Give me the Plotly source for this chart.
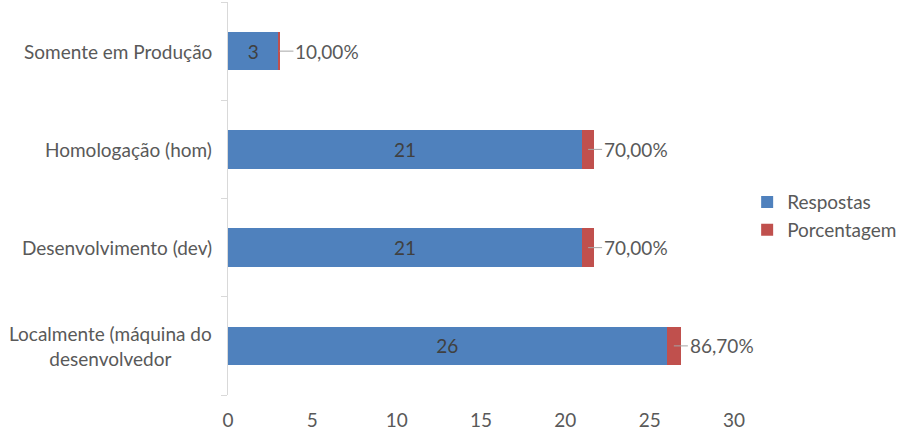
import plotly.graph_objects as go

categorias = ["Localmente (máquina do<br>desenvolvedor", "Desenvolvimento (dev)",
              "Homologação (hom)", "Somente em Produção"]
respostas = [26, 21, 21, 3]
porcentagem = [0.867, 0.70, 0.70, 0.10]
x_ticks = [0, 5, 10, 15, 20, 25, 30]

azul = "#4f81bd"
vermelho = "#c0504d"
texto = "#595959"
fonte = "Lato"
tam = 19

fig = go.Figure()

fig.add_trace(go.Bar(
    y=categorias, x=respostas, orientation="h", name="Respostas",
    marker=dict(color=azul, line=dict(width=0)),
    text=[str(v) for v in respostas], textposition="inside",
    insidetextanchor="middle",
    textfont=dict(color="#404040", size=tam, family=fonte),
    width=0.39,
))
fig.add_trace(go.Bar(
    y=categorias, x=porcentagem, orientation="h", name="Porcentagem",
    marker=dict(color=vermelho, line=dict(width=0)),
    width=0.39,
))

# rotulos com linha de chamada
for cat, r, p in zip(categorias, respostas, porcentagem):
    rotulo = f"{p*100:.2f}%".replace(".", ",")
    fig.add_annotation(
        x=r + p / 2, y=cat, xref="x", yref="y",
        text=rotulo, showarrow=True, arrowhead=0, arrowwidth=1,
        arrowcolor="#a6a6a6", ax=14, ay=0, xanchor="left",
        font=dict(color=texto, size=tam, family=fonte),
    )

# nomes das categorias (centralizados)
for cat in categorias:
    fig.add_annotation(
        x=0, y=cat, xref="paper", yref="y", xshift=-14,
        text=cat, showarrow=False, xanchor="right", align="center",
        font=dict(color=texto, size=tam, family=fonte),
    )

fig.update_layout(
    width=908, height=432,
    barmode="stack",
    paper_bgcolor="white", plot_bgcolor="white",
    margin=dict(l=228, r=174, t=2, b=37, autoexpand=False),
    font=dict(family=fonte, color=texto, size=tam),
    showlegend=True,
    legend=dict(x=1.026, y=0.455, xanchor="left", yanchor="middle",
                font=dict(size=tam, color=texto, family=fonte),
                traceorder="normal", itemwidth=30),
    bargap=0.6,
)

fig.update_xaxes(
    range=[0, 30], tickvals=x_ticks, showgrid=False, zeroline=False,
    showline=False, ticks="outside", ticklen=8, tickcolor="rgba(0,0,0,0)",
    tickfont=dict(size=tam, color=texto, family=fonte), automargin=False,
)
fig.update_yaxes(
    showgrid=False, showline=True, linecolor="#d9d9d9", linewidth=1,
    ticks="outside", tickson="boundaries", ticklen=6, tickcolor="#d9d9d9",
    showticklabels=False, automargin=False,
)

fig.write_html("out.html", config={"displayModeBar": False},
               post_script="document.body.style.margin='0';")
